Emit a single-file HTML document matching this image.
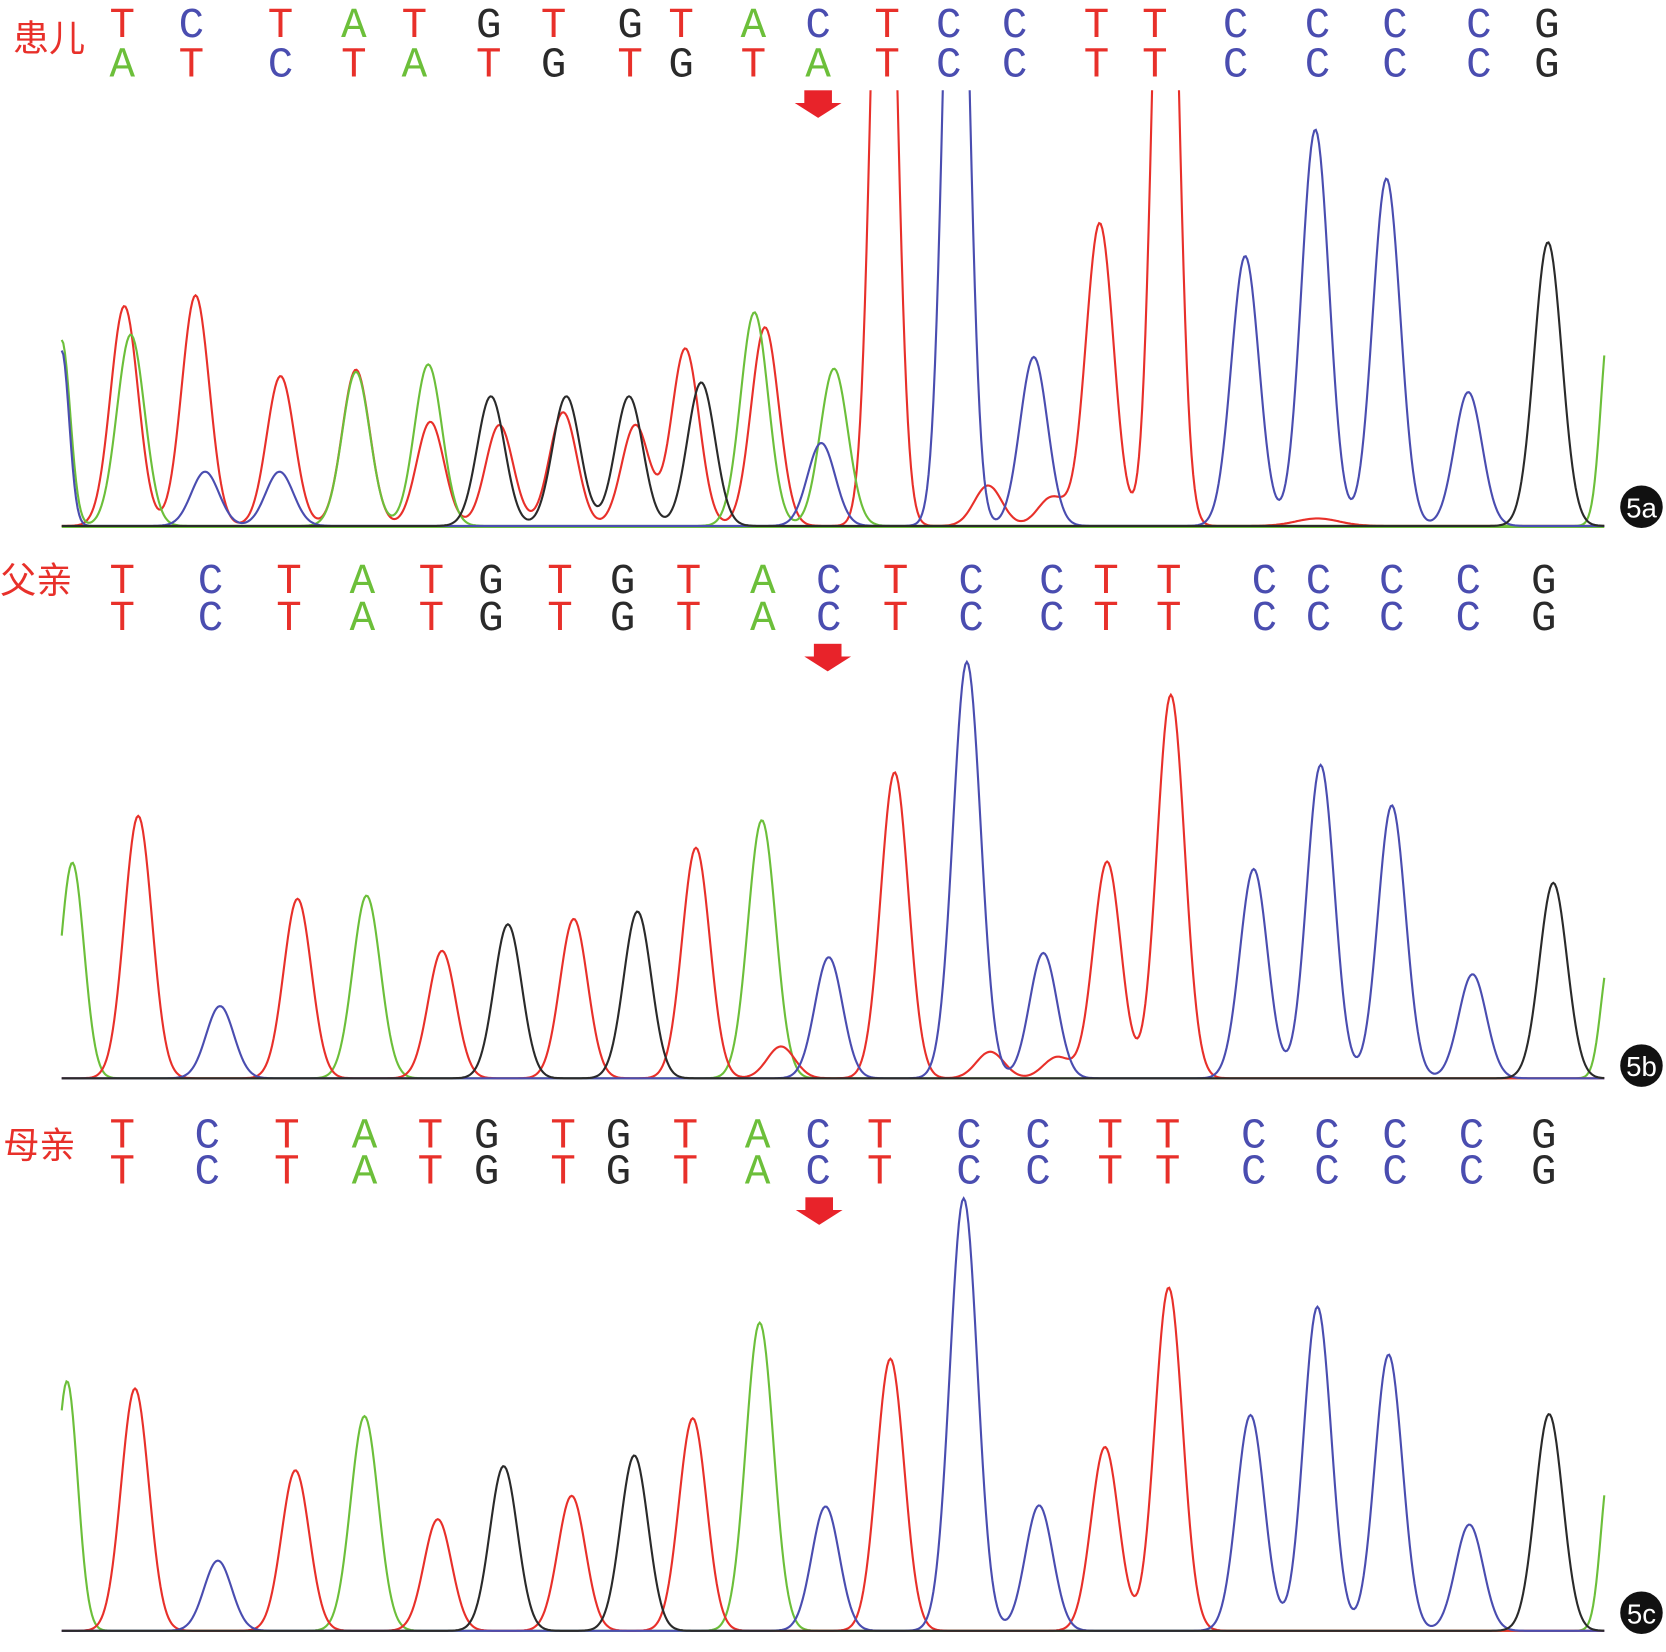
<!DOCTYPE html>
<html><head><meta charset="utf-8"><style>
html,body{margin:0;padding:0;background:#fff}
svg{display:block}
.l{font-family:"Liberation Mono",monospace;font-size:40px;text-anchor:middle}
.cn{font-family:"Liberation Sans","Noto Sans CJK SC",sans-serif;font-size:34px;fill:#e8302a}
.bd{font-family:"Liberation Sans",sans-serif;font-size:26px;fill:#fff;text-anchor:middle}
</style></head><body>
<svg id="s" width="1666" height="1652" viewBox="0 0 1568 1555" xmlns="http://www.w3.org/2000/svg">
<defs><clipPath id="ca"><rect x="0" y="85" width="1568" height="420"/></clipPath></defs>
<text class="cn" x="12" y="48">患儿</text>
<text class="cn" x="0" y="558">父亲</text>
<text class="cn" x="3" y="1090">母亲</text>
<g id="labels"></g>
<g id="traces"></g>
<g fill="#e8232a">
<rect x="757" y="85" width="26" height="12"/><polygon points="748,97 792,97 770,111"/>
<rect x="766" y="606" width="26" height="12"/><polygon points="757,618 801,618 779,632"/>
<rect x="758" y="1127" width="26" height="12"/><polygon points="749,1139 793,1139 771,1153"/>
</g>
<circle cx="1545" cy="477" r="20" fill="#111"/><text class="bd" x="1545" y="487">5a</text>
<circle cx="1545" cy="1003" r="20" fill="#111"/><text class="bd" x="1545" y="1013">5b</text>
<circle cx="1545" cy="1518" r="20" fill="#111"/><text class="bd" x="1545" y="1528">5c</text>
</svg>
<script>
var C={T:"#e8302a",C:"#4a4db0",A:"#6cbf3a",G:"#2a2a2a"};
var col={r:C.T,b:C.C,g:C.A,k:C.G};
var NS="http://www.w3.org/2000/svg";
function txt(ch,x,y){var t=document.createElementNS(NS,"text");t.setAttribute("class","l");t.setAttribute("x",x);t.setAttribute("y",y);t.setAttribute("fill",C[ch]);t.textContent=ch;document.getElementById("labels").appendChild(t);}
function row(s,xs,y){for(var i=0;i<s.length;i++)txt(s[i],xs[i],y);}
var xa=[115,180,264,333,390,460,521,593,641,709,770,835,893,955,1032,1087,1163,1240,1313,1392,1456];
row("TCTATGTGTACTCCTTCCCCG",xa,35);
row("ATCTATGTGTATCCTTCCCCG",xa,72);
var xb=[115,198,272,341,406,462,527,586,648,718,780,843,914,990,1041,1100,1190,1241,1310,1382,1453];
row("TCTATGTGTACTCCTTCCCCG",xb,558);
row("TCTATGTGTACTCCTTCCCCG",xb,593);
var xc=[115,195,270,343,405,458,530,582,645,713,770,828,912,977,1045,1099,1180,1249,1313,1385,1453];
row("TCTATGTGTACTCCTTCCCCG",xc,1080);
row("TCTATGTGTACTCCTTCCCCG",xc,1114);
function trace(base,peaks,color,clip){
 var d="";for(var x=58;x<=1510;x+=1.5){var y=base;for(var i=0;i<peaks.length;i++){var p=peaks[i],s=p[2]||13;y-=(base-p[1])*Math.exp(-(x-p[0])*(x-p[0])/(2*s*s));}
 d+=(d?"L":"M")+x.toFixed(1)+","+y.toFixed(1);}
 var e=document.createElementNS(NS,"path");e.setAttribute("d",d);e.setAttribute("fill","none");e.setAttribute("stroke",color);e.setAttribute("stroke-width","2");if(clip)e.setAttribute("clip-path","url(#ca)");document.getElementById("traces").appendChild(e);}
var B=495;
trace(B+1,[],"#6cbf3a");
trace(B,[[117,288],[184,278],[264,354],[335,348],[405,397],[470,400],[530,388],[598,400],[645,328],[720,308],[832,-300,11],[930,457],[990,468],[1035,210],[1097,-300,11],[1240,488,20]],col.r,1);
trace(B,[[58,320,8],[123,315],[335,350],[403,343],[710,294],[785,347],[1515,300,8]],col.g,1);
trace(B,[[58,330,7],[193,444],[263,444],[773,417],[900,-300,11],[973,336],[1172,241],[1238,122],[1305,168],[1382,369]],col.b,1);
trace(B,[[462,373],[533,373],[592,373],[660,360],[1457,228]],col.k,1);
B=1015;
trace(B,[[68,812,11],[345,843],[717,772],[1515,900,8]],col.g);
trace(B,[[130,768],[280,846],[416,895],[540,865],[655,798],[735,985],[842,727],[932,990],[995,995],[1042,811],[1102,654]],col.r);
trace(B,[[207,947],[780,901],[910,623],[982,897],[1180,818],[1243,720],[1310,758],[1386,917]],col.b);
trace(B,[[478,870],[600,858],[1462,831]],col.k);
B=1535;
trace(B,[[63,1300,10],[343,1333],[715,1245],[1515,1380,8]],col.g);
trace(B,[[127,1307],[278,1384],[412,1430],[538,1408],[652,1335],[838,1279],[1040,1362],[1100,1212]],col.r);
trace(B,[[205,1469],[777,1418],[907,1128],[978,1417],[1177,1332],[1240,1230],[1307,1275],[1383,1435]],col.b);
trace(B,[[474,1380],[597,1370],[1458,1331]],col.k);
</script>
</body></html>
